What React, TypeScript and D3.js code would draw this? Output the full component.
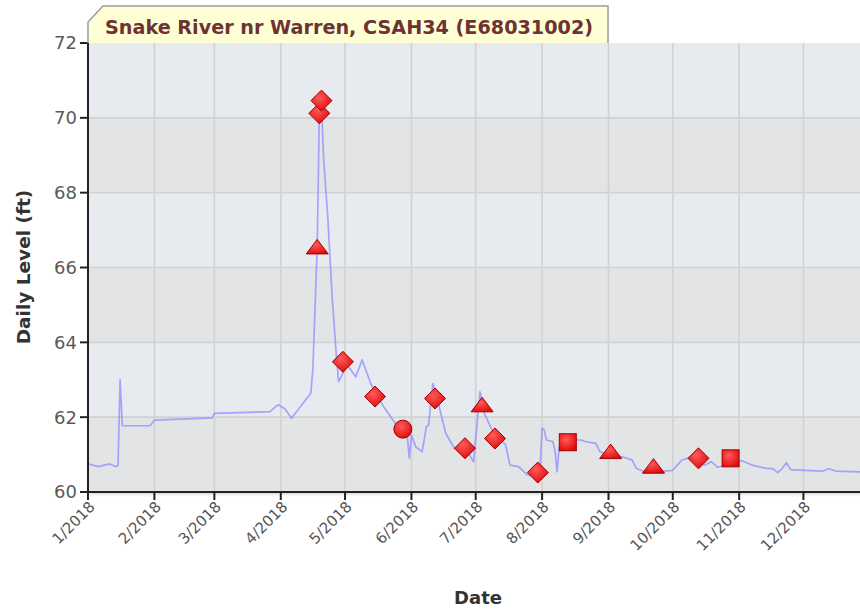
import React from "react";
import * as d3 from "d3";

const lineDates = [
  "2018-01-01","2018-01-06","2018-01-11","2018-01-14","2018-01-15","2018-01-16","2018-01-17","2018-01-30",
  "2018-02-01","2018-02-28","2018-03-01","2018-03-27","2018-03-30","2018-03-31","2018-04-03","2018-04-06",
  "2018-04-15","2018-04-16","2018-04-18","2018-04-19","2018-04-20","2018-04-21","2018-04-23","2018-04-25",
  "2018-04-27","2018-04-28","2018-05-02","2018-05-06","2018-05-09","2018-05-13","2018-05-19","2018-05-25",
  "2018-05-30","2018-05-31","2018-06-01","2018-06-03","2018-06-06","2018-06-08","2018-06-09","2018-06-11",
  "2018-06-13","2018-06-17","2018-06-21","2018-06-25","2018-06-28","2018-06-30","2018-07-03","2018-07-05",
  "2018-07-09","2018-07-15","2018-07-17","2018-07-21","2018-07-25","2018-07-29","2018-07-31","2018-08-01",
  "2018-08-02","2018-08-03","2018-08-06","2018-08-07","2018-08-08","2018-08-09","2018-08-11","2018-08-19",
  "2018-08-21","2018-08-26","2018-08-28","2018-08-31","2018-09-08","2018-09-12","2018-09-14","2018-09-18",
  "2018-09-27","2018-10-01","2018-10-05","2018-10-09","2018-10-16","2018-10-19","2018-10-22","2018-11-02",
  "2018-11-07","2018-11-13","2018-11-17","2018-11-19","2018-11-21","2018-11-23","2018-11-25","2018-12-02",
  "2018-12-10","2018-12-13","2018-12-16","2018-12-27","2018-12-31"
];
const lineLevels = [
  60.75,60.68,60.75,60.68,60.7,63.0,61.77,61.77,
  61.92,61.98,62.1,62.15,62.3,62.33,62.22,61.97,
  62.64,63.3,66.55,70.1,70.35,68.9,67.3,65.2,
  63.6,62.95,63.4,63.08,63.53,62.9,62.28,61.79,
  61.52,60.9,61.52,61.21,61.08,61.75,61.79,62.9,
  62.5,61.57,61.17,61.08,61.0,60.81,62.68,62.1,
  61.61,61.26,60.72,60.68,60.46,60.41,60.6,61.7,
  61.66,61.39,61.35,61.12,60.54,61.21,61.39,61.39,
  61.35,61.3,61.08,61.0,60.93,60.86,60.63,60.54,
  60.56,60.58,60.84,60.93,60.72,60.81,60.66,60.84,
  60.72,60.64,60.62,60.52,60.62,60.78,60.6,60.58,
  60.56,60.62,60.56,60.54,60.54
];

const markerDates = [
  "2018-04-18","2018-04-19","2018-04-20","2018-04-30","2018-05-15","2018-05-28","2018-06-12","2018-06-26",
  "2018-07-04","2018-07-10","2018-07-30","2018-08-13","2018-09-02","2018-09-22","2018-10-13","2018-10-28"
];
const markerLevels = [66.55,70.12,70.46,63.48,62.55,61.68,62.5,61.17,62.33,61.43,60.52,61.33,61.08,60.69,60.9,60.9];
const markerShapes = [
  "triangle","diamond","diamond","diamond","diamond","circle","diamond","diamond",
  "triangle","diamond","diamond","square","triangle","triangle","diamond","square"
];

const yTicks = [60, 62, 64, 66, 68, 70, 72];
const xTickDates = [
  "2018-01-01","2018-02-01","2018-03-01","2018-04-01","2018-05-01","2018-06-01",
  "2018-07-01","2018-08-01","2018-09-01","2018-10-01","2018-11-01","2018-12-01"
];
const xTickLabels = ["1/2018","2/2018","3/2018","4/2018","5/2018","6/2018","7/2018","8/2018","9/2018","10/2018","11/2018","12/2018"];

const titleText = "Snake River nr Warren, CSAH34 (E68031002)";
const yTitle = "Daily Level (ft)";
const xTitle = "Date";

const parse = d3.utcParse("%Y-%m-%d");

export default function App() {
  const W = 860, H = 612;
  const left = 88, top = 43, bottom = 492;
  const x = d3.scaleUtc()
    .domain([parse("2018-01-01") as Date, parse("2019-01-01") as Date])
    .range([left, left + 365 * 2.142]);
  const y = d3.scaleLinear().domain([60, 72]).range([bottom, top]);
  const right = x.range()[1];

  const pts = lineDates.map((d, i) => [x(parse(d) as Date), y(lineLevels[i])] as [number, number]);
  const linePath = d3.line()(pts) || "";

  const bands = d3.range(6).map((i) => ({
    y0: y(60 + 2 * i + 2),
    y1: y(60 + 2 * i),
    fill: i % 2 === 0 ? "#e3e4e6" : "#e7eaee",
  }));

  const font = "'DejaVu Sans', Verdana, sans-serif";

  const marker = (shape: string, cx: number, cy: number, key: number) => {
    const common = { fill: "url(#mk)", stroke: "#a30000", strokeWidth: 1 };
    if (shape === "diamond") {
      const r = 10.5;
      return <path key={key} d={`M${cx},${cy - r}L${cx + r},${cy}L${cx},${cy + r}L${cx - r},${cy}Z`} {...common} />;
    }
    if (shape === "square") {
      const s = 8.5;
      return <rect key={key} x={cx - s} y={cy - s} width={2 * s} height={2 * s} {...common} />;
    }
    if (shape === "circle") {
      return <circle key={key} cx={cx} cy={cy} r={9} {...common} />;
    }
    return <path key={key} d={`M${cx},${cy - 7.5}L${cx + 11},${cy + 7}L${cx - 11},${cy + 7}Z`} {...common} />;
  };

  return (
    <svg width={W} height={H} style={{ position: "absolute", left: 0, top: 0, background: "#fff" }}>
      <defs>
        <radialGradient id="mk" cx="40%" cy="35%" r="70%">
          <stop offset="0%" stopColor="#ff5a5a" />
          <stop offset="100%" stopColor="#e00a0a" />
        </radialGradient>
        <clipPath id="plotclip">
          <rect x={left} y={top} width={right - left} height={bottom - top} />
        </clipPath>
        <linearGradient id="shadow" x1="0" y1="0" x2="0" y2="1">
          <stop offset="0%" stopColor="#c8c8c8" />
          <stop offset="100%" stopColor="#ffffff" stopOpacity={0} />
        </linearGradient>
      </defs>

      <rect x={left + 2} y={bottom} width={right - left} height={6} fill="url(#shadow)" />

      {bands.map((b, i) => (
        <rect key={i} x={left} y={b.y0} width={right - left} height={b.y1 - b.y0} fill={b.fill} />
      ))}

      {xTickDates.slice(1).map((d, i) => (
        <line key={"gx" + i} x1={x(parse(d) as Date)} x2={x(parse(d) as Date)} y1={top} y2={bottom} stroke="#d2d2d2" strokeWidth={1.6} />
      ))}
      {yTicks.slice(1, -1).map((t) => (
        <line key={"gy" + t} x1={left} x2={right} y1={y(t)} y2={y(t)} stroke="#d2d2d2" strokeWidth={1.6} />
      ))}

      <g clipPath="url(#plotclip)">
        <path d={linePath} fill="none" stroke="#8c8cff" strokeOpacity={0.75} strokeWidth={1.7} strokeLinejoin="round" />
      </g>

      {markerDates.map((d, i) => marker(markerShapes[i], x(parse(d) as Date), y(markerLevels[i]), i))}

      <line x1={left} x2={left} y1={top} y2={bottom + 1} stroke="#222" strokeWidth={2} />
      <line x1={left - 1} x2={right} y1={bottom} y2={bottom} stroke="#222" strokeWidth={2} />
      {yTicks.map((t) => (
        <g key={"yt" + t}>
          <line x1={left - 8} x2={left} y1={y(t)} y2={y(t)} stroke="#222" strokeWidth={2} />
          <text x={left - 11} y={y(t)} dy="0.36em" textAnchor="end" fontFamily={font} fontSize={18} fill="#5a5a5a">
            {t}
          </text>
        </g>
      ))}
      {xTickDates.map((d, i) => {
        const tx = x(parse(d) as Date);
        return (
          <g key={"xt" + i}>
            <line x1={tx} x2={tx} y1={bottom} y2={bottom + 8} stroke="#222" strokeWidth={2} />
            <text
              transform={`translate(${tx + 4},${bottom + 12}) rotate(-45)`}
              textAnchor="end"
              dy="0.35em"
              fontFamily={font}
              fontSize={15}
              fill="#555"
            >
              {xTickLabels[i]}
            </text>
          </g>
        );
      })}

      <text x={478} y={604} textAnchor="middle" fontFamily={font} fontWeight="bold" fontSize={18} fill="#333">
        {xTitle}
      </text>
      <text transform={`translate(30,267) rotate(-90)`} textAnchor="middle" fontFamily={font} fontWeight="bold" fontSize={18.5} fill="#333">
        {yTitle}
      </text>

      <path d={`M${left},${top}L${left},22L103,6L608,6L608,${top}`} fill="#ffffd6" stroke="#9a9a9a" strokeWidth={1.5} />
      <text x={105} y={34} fontFamily={font} fontWeight="bold" fontSize={19} textLength={488} lengthAdjust="spacingAndGlyphs" fill="#6e3232">
        {titleText}
      </text>
    </svg>
  );
}
